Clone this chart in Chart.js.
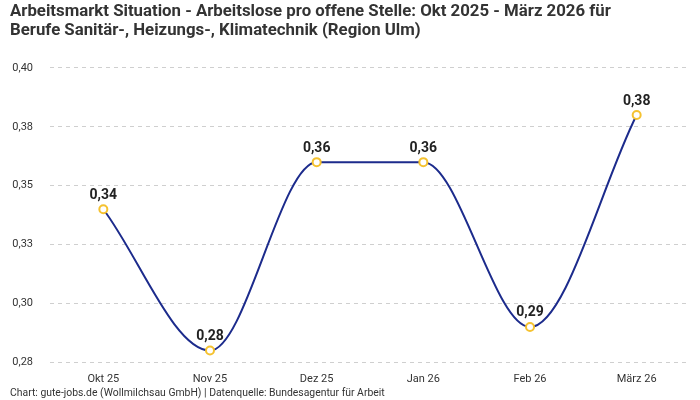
<!DOCTYPE html>
<html>
<head>
<meta charset="utf-8">
<script src="https://cdn.jsdelivr.net/npm/chart.js@4"></script>
<style>
  html, body { margin: 0; padding: 0; background: #fff; }
  #wrap { width: 700px; height: 400px; }
</style>
</head>
<body>
<div id="wrap"><canvas id="myChart"></canvas></div>
<script>
// data
const months = ['Okt 25', 'Nov 25', 'Dez 25', 'Jan 26', 'Feb 26', 'März 26'];
const ratio = [0.34, 0.28, 0.36, 0.36, 0.29, 0.38];
const yTickLabels = ['0,28', '0,30', '0,33', '0,35', '0,38', '0,40'];

const fontFam = 'Roboto, "Noto Sans", sans-serif';

// labels over the points
const pointLabels = {
  id: 'pointLabels',
  afterDatasetsDraw(chart) {
    const c = chart.ctx;
    const meta = chart.getDatasetMeta(0);
    c.save();
    c.font = 'bold 14px ' + fontFam;
    c.fillStyle = '#222';
    c.textAlign = 'center';
    c.textBaseline = 'bottom';
    meta.data.forEach(function(pt, i) {
      c.fillText(ratio[i].toFixed(2).replace('.', ','), pt.x, pt.y - 7);
    });
    c.restore();
  }
};

new Chart(document.getElementById('myChart'), {
  type: 'line',
  data: {
    labels: months,
    datasets: [{
      data: ratio,
      borderColor: '#1c2b8c',
      borderWidth: 2,
      cubicInterpolationMode: 'monotone',
      pointRadius: 4,
      pointBorderWidth: 2,
      pointBackgroundColor: '#fff',
      pointBorderColor: '#f5c230',
      clip: false
    }]
  },
  options: {
    responsive: true,
    maintainAspectRatio: false,
    animation: false,
    layout: { padding: { left: 10, right: 10, top: 0, bottom: 0 } },
    plugins: {
      legend: { display: false },
      tooltip: { enabled: false },
      title: {
        display: true,
        align: 'start',
        text: ['Arbeitsmarkt Situation - Arbeitslose pro offene Stelle: Okt 2025 - März 2026 für',
               'Berufe Sanitär-, Heizungs-, Klimatechnik (Region Ulm)'],
        color: '#333',
        font: { family: fontFam, size: 16.8, weight: 'bold', lineHeight: 1.1 },
        padding: { top: 3, bottom: 28 }
      },
      subtitle: {
        display: true,
        position: 'bottom',
        align: 'start',
        text: 'Chart: gute-jobs.de (Wollmilchsau GmbH) | Datenquelle: Bundesagentur für Arbeit',
        color: '#333',
        font: { family: fontFam, size: 10.4 },
        padding: { top: 0, bottom: 0 }
      }
    },
    scales: {
      x: {
        offset: true,
        grid: { display: false },
        border: { display: false },
        ticks: { color: '#333', font: { family: fontFam, size: 11 }, padding: 2 }
      },
      y: {
        min: 0.275,
        max: 0.40,
        afterFit: function(scale) { scale.width = 40; },
        grid: { color: '#cfcfcf', tickLength: 0 },
        border: { display: false, dash: [4, 4] },
        ticks: {
          stepSize: 0.025,
          color: '#333',
          padding: 17,
          font: { family: fontFam, size: 11 },
          callback: function(v, i) { return yTickLabels[i]; }
        }
      }
    }
  },
  plugins: [pointLabels]
});
</script>
</body>
</html>
